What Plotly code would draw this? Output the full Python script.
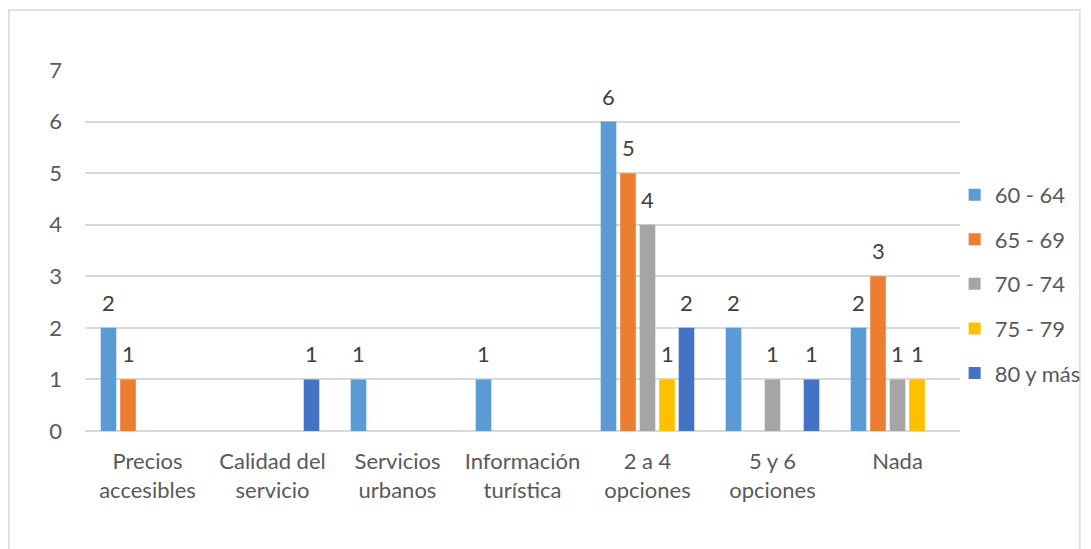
import plotly.graph_objects as go

categories = ["Precios<br>accesibles", "Calidad del<br>servicio", "Servicios<br>urbanos",
              "Información<br>turística", "2 a 4<br>opciones", "5 y 6<br>opciones", "Nada"]
series_names = ["60 - 64", "65 - 69", "70 - 74", "75 - 79", "80 y más"]
v_60_64 = [2, None, 1, 1, 6, 2, 2]
v_65_69 = [1, None, None, None, 5, None, 3]
v_70_74 = [None, None, None, None, 4, 1, 1]
v_75_79 = [None, None, None, None, 1, None, 1]
v_80_mas = [None, 1, None, None, 2, 1, None]
colors = ["#5B9BD5", "#ED7D31", "#A5A5A5", "#FFC000", "#4472C4"]
y_ticks = [0, 1, 2, 3, 4, 5, 6, 7]

FONT = "Lato, 'Open Sans', sans-serif"
FS = 22
BARGAP = 0.22
all_series = [v_60_64, v_65_69, v_70_74, v_75_79, v_80_mas]
n = len(all_series)

fig = go.Figure()
for name, vals, col in zip(series_names, all_series, colors):
    fig.add_trace(go.Bar(
        x=list(range(len(categories))), y=vals, name=name, marker_color=col, marker_line_width=0,
        legendgroup=name, hoverinfo="skip",
    ))

# data labels placed above each bar (category index + group offset)
slot = (1 - BARGAP) / n
annotations = []
for j, vals in enumerate(all_series):
    for i, v in enumerate(vals):
        if v is None:
            continue
        annotations.append(dict(
            x=i + (j - (n - 1) / 2) * slot, y=v, xref="x", yref="y",
            text=str(v), showarrow=False, yanchor="bottom", xanchor="center", yshift=10,
            font=dict(size=FS, color="#404040", family=FONT),
        ))

fig.update_layout(
    width=1091, height=549,
    margin=dict(l=85, r=131, t=70, b=118, autoexpand=False),
    paper_bgcolor="white", plot_bgcolor="white",
    barmode="group", bargap=BARGAP, bargroupgap=0.2,
    font=dict(family=FONT, size=FS, color="#595959"),
    showlegend=True,
    legend=dict(xref="container", yref="container", x=0.875, xanchor="left", y=0.483, yanchor="middle",
                font=dict(size=FS, color="#595959", family=FONT),
                tracegroupgap=13, itemwidth=30, bgcolor="rgba(0,0,0,0)"),
    xaxis=dict(showgrid=False, showline=False, ticks="", automargin=False,
               tickvals=list(range(len(categories))), ticktext=categories,
               range=[-0.5, len(categories) - 0.5],
               ticklabelstandoff=15, tickfont=dict(size=FS, color="#595959")),
    yaxis=dict(range=[0, 7], tickvals=y_ticks, showgrid=True, gridcolor="#D9D9D9", gridwidth=2,
               zeroline=True, zerolinecolor="#D9D9D9", zerolinewidth=2, automargin=False,
               showline=False, ticks="", ticklabelstandoff=22,
               tickfont=dict(size=FS, color="#595959")),
    annotations=annotations,
    shapes=[dict(type="rect", xref="paper", yref="paper", x0=-0.087, x1=1.137, y0=-0.4, y1=1.166,
                 line=dict(color="#D9D9D9", width=1.5), fillcolor="rgba(0,0,0,0)", layer="below")],
)
fig.write_html("out.html", config={"displayModeBar": False},
               post_script="document.body.style.margin='0px';")
